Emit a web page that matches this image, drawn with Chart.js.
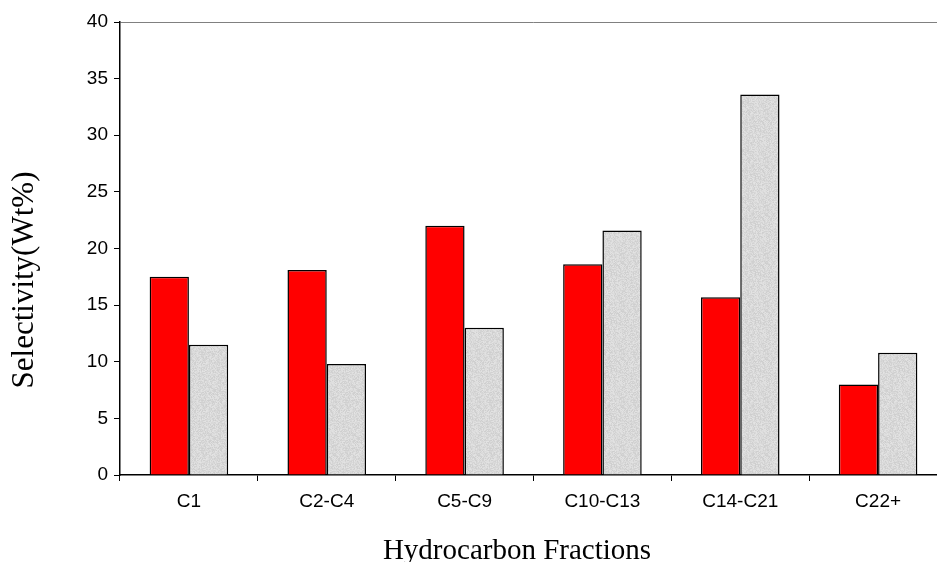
<!DOCTYPE html>
<html>
<head>
<meta charset="utf-8">
<script src="https://cdn.jsdelivr.net/npm/chart.js@4"></script>
<style>
  html, body { margin: 0; padding: 0; background: #fff; overflow: hidden; }
</style>
</head>
<body>
<canvas id="chart" width="947" height="562"></canvas>
<script>
const categories = ['C1', 'C2-C4', 'C5-C9', 'C10-C13', 'C14-C21', 'C22+'];
const redValues = [17.5, 18.1, 22.0, 18.6, 15.7, 8.0];
const greyValues = [11.5, 9.8, 13.0, 21.6, 33.6, 10.8];
const yTicks = [0, 5, 10, 15, 20, 25, 30, 35, 40];

// grey granite-like texture, deterministic speckles
function makeGranite() {
    const c = document.createElement('canvas');
    c.width = 48; c.height = 48;
    const g = c.getContext('2d');
    const img = g.createImageData(48, 48);
    let seed = 12345;
    const next = () => { seed = (seed * 1103515245 + 12345) & 0x7fffffff; return seed / 0x7fffffff; };
    for (let i = 0; i < 48 * 48; i++) {
        let v = 217 + Math.floor((next() - 0.5) * 22);
        img.data[i * 4] = v;
        img.data[i * 4 + 1] = v;
        img.data[i * 4 + 2] = v;
        img.data[i * 4 + 3] = 255;
    }
    g.putImageData(img, 0, 0);
    return document.getElementById('chart').getContext('2d').createPattern(c, 'repeat');
}

// axis titles
const titlesPlugin = {
    id: 'titles',
    afterDraw(chart) {
        const ctx = chart.ctx;
        ctx.save();
        ctx.fillStyle = '#000';
        ctx.textAlign = 'center';
        ctx.textBaseline = 'alphabetic';
        ctx.font = '29px "Liberation Serif", "Times New Roman", serif';
        ctx.fillText('Hydrocarbon Fractions', 517, 559);
        ctx.font = '31px "Liberation Serif", "Times New Roman", serif';
        ctx.translate(33, 280);
        ctx.rotate(-Math.PI / 2);
        ctx.fillText('Selectivity(Wt%)', 0, 0);
        ctx.restore();
    }
};

const ctx = document.getElementById('chart').getContext('2d');

new Chart(ctx, {
    type: 'bar',
    data: {
        labels: categories,
        datasets: [
            {
                data: redValues,
                backgroundColor: '#ff0000',
                borderColor: '#000',
                borderWidth: 1.5
            },
            {
                data: greyValues,
                backgroundColor: makeGranite(),
                borderColor: '#000',
                borderWidth: 1.5
            }
        ]
    },
    options: {
        responsive: false,
        animation: false,
        layout: { padding: { top: 22, left: 0, right: 0, bottom: 0 } },
        datasets: { bar: { categoryPercentage: 0.57, barPercentage: 1.0 } },
        plugins: {
            legend: { display: false },
            tooltip: { enabled: false }
        },
        scales: {
            x: {
                afterFit: s => { s.height = 87; },
                grid: {
                    offset: true,
                    drawOnChartArea: false,
                    tickLength: 6,
                    tickColor: '#000'
                },
                border: { color: '#000', width: 1.5 },
                ticks: {
                    color: '#000',
                    padding: 9,
                    font: { family: '"Liberation Sans", Arial, sans-serif', size: 19 }
                }
            },
            y: {
                min: 0,
                max: 40,
                afterFit: s => { s.width = 120; },
                afterBuildTicks: s => { s.ticks = yTicks.map(v => ({ value: v })); },
                grid: {
                    color: c => (c.tick && c.tick.value === 40) ? '#808080' : 'rgba(0,0,0,0)',
                    tickColor: '#000',
                    tickLength: 6
                },
                border: { color: '#000', width: 1.5 },
                ticks: {
                    color: '#000',
                    padding: 6,
                    font: { family: '"Liberation Sans", Arial, sans-serif', size: 19 }
                }
            }
        }
    },
    plugins: [titlesPlugin]
});
</script>
</body>
</html>
